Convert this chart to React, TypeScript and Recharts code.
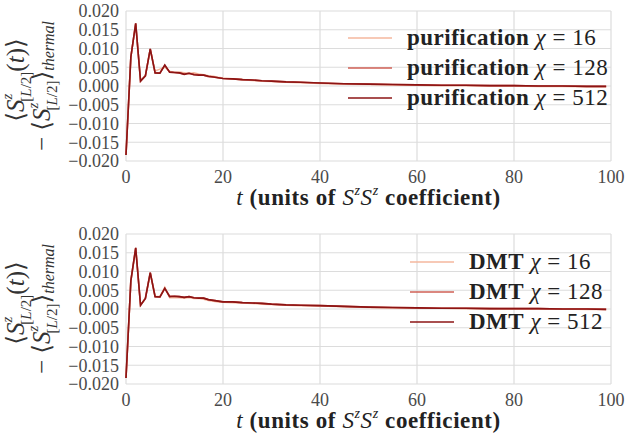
import React from "react";
import { LineChart, Line, XAxis, YAxis, CartesianGrid, Legend } from "recharts";

// Sample times (dense during the early oscillations, sparser in the slow tail)
const times = [
  0, 1, 2, 3, 4, 5, 6, 7, 8, 9, 10, 11, 12, 13, 14, 15, 16, 17, 18, 19, 20,
  22, 24, 26, 28, 30, 33, 36, 40, 45, 50, 55, 60, 65, 70, 75, 80, 85, 90, 95, 99,
];

// Purification results for each bond dimension
const purification16 = [
  -0.0184, 0.0077, 0.0166, 0.0014, 0.0028, 0.0097, 0.004, 0.0045, 0.005, 0.0039, 0.0036,
  0.0037, 0.0035, 0.0033, 0.0035, 0.0032, 0.003, 0.0027, 0.0026, 0.0023, 0.0021,
  0.0019, 0.0017, 0.0015, 0.0013, 0.0012, 0.001, 0.0009, 0.0007, 0.0005, 0.0004,
  0.0003, 0.0002, 0.0001, 0.0001, 0.0, 0.0, -0.0001, -0.0001, -0.0002, -0.0002,
];
const purification128 = [
  -0.0184, 0.0077, 0.0167, 0.0013, 0.0027, 0.0099, 0.0035, 0.0035, 0.0055, 0.0037, 0.0036,
  0.0035, 0.0032, 0.0034, 0.0031, 0.003, 0.0029, 0.0025, 0.0024, 0.0022, 0.002,
  0.0019, 0.0017, 0.0016, 0.0014, 0.0013, 0.0011, 0.001, 0.0008, 0.0006, 0.0005,
  0.0004, 0.0003, 0.0002, 0.0002, 0.0001, 0.0001, 0.0, 0.0, -0.0001, -0.0001,
];
const purification512 = [
  -0.0184, 0.0077, 0.0167, 0.0013, 0.0027, 0.0099, 0.0035, 0.0034, 0.0056, 0.0037, 0.0036,
  0.0035, 0.0031, 0.0034, 0.003, 0.0029, 0.0029, 0.0026, 0.0024, 0.0022, 0.002,
  0.0019, 0.0017, 0.0016, 0.0014, 0.0013, 0.0011, 0.001, 0.0008, 0.0006, 0.0005,
  0.0004, 0.0003, 0.0002, 0.0002, 0.0001, 0.0001, 0.0, 0.0, -0.0001, -0.0001,
];

// DMT results for each bond dimension
const dmt16 = [
  -0.0184, 0.0075, 0.0162, 0.0011, 0.0028, 0.0096, 0.0034, 0.0033, 0.0058, 0.003, 0.0031,
  0.003, 0.0029, 0.0031, 0.0028, 0.0029, 0.0026, 0.0023, 0.0021, 0.0019, 0.0018,
  0.0017, 0.0016, 0.0015, 0.0013, 0.0012, 0.001, 0.0009, 0.0008, 0.0006, 0.0004,
  0.0003, 0.0002, 0.0002, 0.0001, 0.0001, 0.0, 0.0, 0.0, -0.0001, -0.0001,
];
const dmt128 = [
  -0.0184, 0.0075, 0.0163, 0.001, 0.0028, 0.0097, 0.0033, 0.0032, 0.0055, 0.0034, 0.0034,
  0.0033, 0.0031, 0.0033, 0.003, 0.0029, 0.0029, 0.0025, 0.0023, 0.0021, 0.0019,
  0.0019, 0.0017, 0.0016, 0.0015, 0.0013, 0.0011, 0.001, 0.0009, 0.0007, 0.0005,
  0.0004, 0.0003, 0.0002, 0.0002, 0.0001, 0.0001, 0.0001, 0.0, 0.0, -0.0001,
];
const dmt512 = [
  -0.0184, 0.0075, 0.0163, 0.001, 0.0028, 0.0097, 0.0033, 0.0032, 0.0055, 0.0033, 0.0034,
  0.0033, 0.0031, 0.0033, 0.003, 0.0029, 0.0029, 0.0025, 0.0023, 0.0021, 0.0019,
  0.0019, 0.0017, 0.0016, 0.0015, 0.0013, 0.0011, 0.001, 0.0009, 0.0007, 0.0005,
  0.0004, 0.0003, 0.0002, 0.0002, 0.0001, 0.0001, 0.0001, 0.0, 0.0, -0.0001,
];

const xTicks = [0, 20, 40, 60, 80, 100];
const yTicks = [-0.02, -0.015, -0.01, -0.005, 0, 0.005, 0.01, 0.015, 0.02];
const chiValues = ["16", "128", "512"];

const COLORS = ["#f4b79e", "#cf5f55", "#8c1414"];
const GRID = "#dcdcdc";
const TICK_COLOR = "#4a4a4a";
const FONT = "'Liberation Serif', 'DejaVu Serif', serif";

const buildRows = (a: number[], b: number[], c: number[]) =>
  times.map((t, i) => ({ t, s0: a[i], s1: b[i], s2: c[i] }));

const XLabel = (props: any) => {
  const { viewBox } = props;
  const cx = viewBox.x + viewBox.width / 2;
  const y = viewBox.y + 44;
  return (
    <text
      x={cx}
      y={y}
      textAnchor="middle"
      fontFamily={FONT}
      fontSize={23}
      letterSpacing={0.6}
      fill="#222"
    >
      <tspan fontStyle="italic">t</tspan>
      <tspan fontWeight="bold"> (units of </tspan>
      <tspan fontStyle="italic">S</tspan>
      <tspan fontStyle="italic" fontSize={14} dy={-10}>z</tspan>
      <tspan fontStyle="italic" dy={10}>S</tspan>
      <tspan fontStyle="italic" fontSize={14} dy={-10}>z</tspan>
      <tspan fontWeight="bold" dy={10}> coefficient)</tspan>
    </text>
  );
};

const YLabel = (props: any) => {
  const cy = 75 + (props.plotTop ?? 11);
  return (
    <g fill="#333" fontFamily={FONT}>
      <text transform={`translate(24, ${cy - 6}) rotate(-90)`} textAnchor="middle" fontSize={25}>
        <tspan>⟨</tspan>
        <tspan fontStyle="italic">S</tspan>
        <tspan fontStyle="italic" fontSize={15} dy={-12}>z</tspan>
        <tspan fontSize={15} dx={-8} dy={19}>
          [<tspan fontStyle="italic">L</tspan>/2]
        </tspan>
        <tspan dy={-7}>(</tspan>
        <tspan fontStyle="italic">t</tspan>
        <tspan>)⟩</tspan>
      </text>
      <text transform={`translate(50, ${cy}) rotate(-90)`} textAnchor="middle" fontSize={25}>
        <tspan>− ⟨</tspan>
        <tspan fontStyle="italic">S</tspan>
        <tspan fontStyle="italic" fontSize={15} dy={-12}>z</tspan>
        <tspan fontSize={15} dx={-8} dy={19}>
          [<tspan fontStyle="italic">L</tspan>/2]
        </tspan>
        <tspan dy={-7}>⟩</tspan>
        <tspan fontStyle="italic" fontSize={16} dy={4}>thermal</tspan>
      </text>
    </g>
  );
};

const makeLegend = (prefix: string) => () => (
  <div style={{ fontFamily: FONT }}>
    {chiValues.map((chi, i) => (
      <div key={chi} style={{ display: "flex", alignItems: "center", height: 30 }}>
        <svg width={44} height={4} style={{ marginRight: 15 }}>
          <line x1={0} y1={2} x2={44} y2={2} stroke={COLORS[i]} strokeWidth={1.6} />
        </svg>
        <span style={{ fontSize: 23, letterSpacing: 0.5, color: "#222", whiteSpace: "nowrap" }}>
          <b>{prefix}</b> <i>χ</i> = {chi}
        </span>
      </div>
    ))}
  </div>
);

type PanelProps = {
  rows: any[];
  prefix: string;
  top: number;
  marginTop: number;
  marginBottom: number;
  legendLeft: number;
  legendTop: number;
};

const Panel = ({ rows, prefix, top, marginTop, marginBottom, legendLeft, legendTop }: PanelProps) => (
  <div style={{ position: "absolute", left: 0, top, width: 628, height: 217 }}>
    <LineChart
      width={628}
      height={217}
      data={rows}
      margin={{ top: marginTop, right: 17, bottom: marginBottom, left: 66 }}
    >
      <CartesianGrid stroke={GRID} strokeWidth={1.2} horizontal vertical />
      <XAxis
        dataKey="t"
        type="number"
        domain={[0, 100]}
        ticks={xTicks}
        axisLine={false}
        tickLine={false}
        tickSize={0}
        tickMargin={9}
        height={30}
        interval={0}
        tick={{ fill: TICK_COLOR, fontSize: 18, fontFamily: FONT }}
        label={<XLabel />}
      />
      <YAxis
        type="number"
        domain={[-0.02, 0.02]}
        ticks={yTicks}
        width={60}
        axisLine={false}
        tickLine={false}
        tickSize={0}
        tickMargin={7}
        interval={0}
        allowDataOverflow
        tickFormatter={(v: number) => (v < 0 ? "−" + Math.abs(v).toFixed(3) : v.toFixed(3))}
        tick={{ fill: TICK_COLOR, fontSize: 18, fontFamily: FONT }}
        label={<YLabel plotTop={marginTop} />}
      />
      <Legend
        layout="vertical"
        verticalAlign="middle"
        align="center"
        wrapperStyle={{ left: legendLeft, top: legendTop, width: 270, height: 90 }}
        content={makeLegend(prefix)}
      />
      {["s0", "s1", "s2"].map((key, i) => (
        <Line
          key={key}
          dataKey={key}
          name={`${prefix} χ = ${chiValues[i]}`}
          type="linear"
          stroke={COLORS[i]}
          strokeWidth={1.6}
          dot={false}
          isAnimationActive={false}
        />
      ))}
    </LineChart>
  </div>
);

export default function App() {
  return (
    <div style={{ position: "absolute", left: 0, top: 0, width: 628, height: 434, background: "#fff" }}>
      <Panel
        rows={buildRows(purification16, purification128, purification512)}
        prefix="purification"
        top={0}
        marginTop={11}
        marginBottom={26}
        legendLeft={348}
        legendTop={23}
      />
      <Panel
        rows={buildRows(dmt16, dmt128, dmt512)}
        prefix="DMT"
        top={217}
        marginTop={17}
        marginBottom={20}
        legendLeft={410}
        legendTop={30}
      />
    </div>
  );
}
